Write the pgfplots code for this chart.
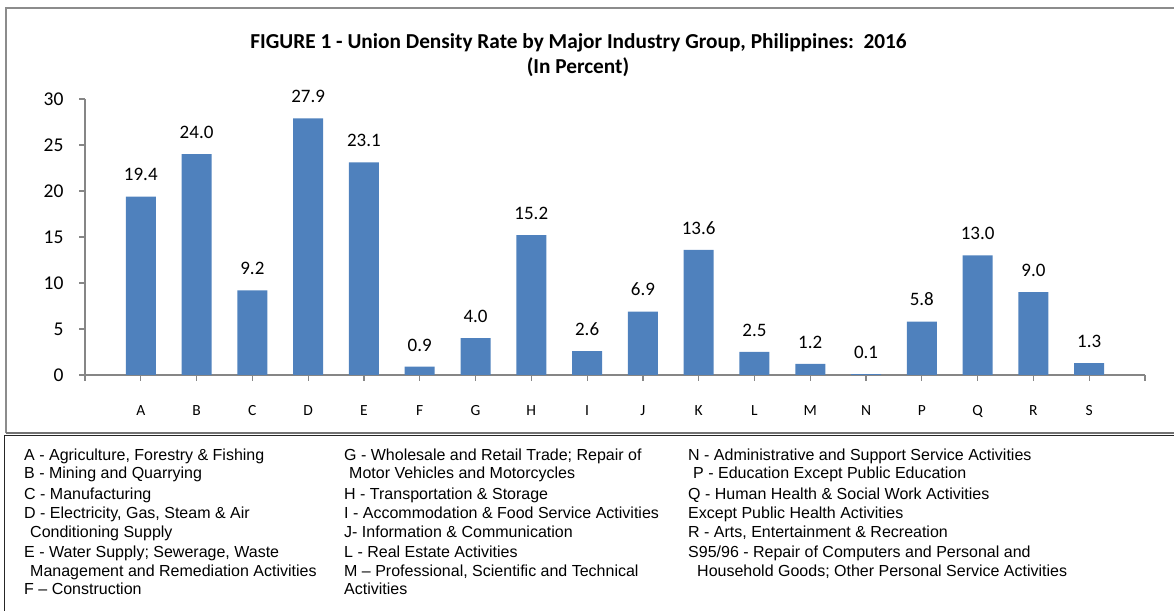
\documentclass[border=0pt]{standalone}
\usepackage{pgfplots}
\pgfplotsset{compat=1.18}
\usepackage{fontspec}
\setmainfont{Carlito}
\newfontfamily\arialfont{Liberation Sans}
\definecolor{barblue}{HTML}{4F81BD}
\definecolor{axgray}{HTML}{868686}
\begin{document}
\begin{tikzpicture}[x=1pt,y=1pt]
\useasboundingbox (0,0) rectangle (1174,610);
% chart frame
\draw[line width=2pt, color=black!45] (6,177) -- (6,601.5) -- (1180,601.5);
\draw[line width=1.2pt, color=black!55] (6,177) -- (1180,177);
\draw[line width=1.5pt, color=black!85] (4.5,-5) -- (4.5,174.5) -- (1180,174.5);
% title
\node[font=\bfseries\fontsize{21.3}{25}\selectfont] at (578.5,567) {FIGURE 1 - Union Density Rate by Major Industry Group, Philippines:\ \ 2016};
\node[font=\bfseries\fontsize{21.3}{25}\selectfont] at (578,543) {(In Percent)};
\begin{axis}[
  at={(85pt,235pt)}, anchor=south west,
  scale only axis, width=1060pt, height=276pt,
  xmin=-1, xmax=18, ymin=0, ymax=30,
  axis x line=bottom, axis y line=left,
  axis line style={-, draw=axgray, line width=1.2pt},
  tick align=outside, major tick length=6pt,
  tick style={draw=axgray, line width=1.2pt},
  xtick={-1,0,...,18},
  xticklabels={{},A,B,C,D,E,F,G,H,I,J,K,L,M,N,P,Q,R,S,{}},
  ytick={0,5,...,30},
  /pgf/number format/assume math mode=true,
  yticklabel style={font=\fontsize{19.5}{22}\selectfont, xshift=-12pt},
  xticklabel style={font=\fontsize{15.5}{18}\selectfont, yshift=-21pt},
  clip=false,
  ybar, bar width=30pt,
  nodes near coords={\pgfmathprintnumber[fixed,fixed zerofill,precision=1]{\pgfplotspointmeta}},
  every node near coord/.append style={font=\fontsize{19}{22}\selectfont, yshift=12pt, black},
]
\addplot[fill=barblue, draw=none] coordinates {
(0,19.4) (1,24.0) (2,9.2) (3,27.9) (4,23.1) (5,0.9) (6,4.0) (7,15.2) (8,2.6)
(9,6.9) (10,13.6) (11,2.5) (12,1.2) (13,0.1) (14,5.8) (15,13.0) (16,9.0) (17,1.3)};
\end{axis}
% legend text
\begin{scope}[every node/.style={anchor=base west, inner sep=0pt, font=\arialfont\fontsize{16}{18}\selectfont}]
\node at (24,149.5) {A - Agriculture, Forestry \& Fishing};
\node at (24,131.5) {B - Mining and Quarrying};
\node at (24,110.5) {C - Manufacturing};
\node at (24,91.5) {D - Electricity, Gas, Steam \& Air};
\node at (30,72.5) {Conditioning Supply};
\node at (24,52.5) {E - Water Supply; Sewerage, Waste};
\node at (30,33.5) {Management and Remediation Activities};
\node at (24,15.5) {F – Construction};
\node at (344,149.5) {G - Wholesale and Retail Trade; Repair of};
\node at (349,131.5) {Motor Vehicles and Motorcycles};
\node at (344,110.5) {H - Transportation \& Storage};
\node at (344,91.5) {I - Accommodation \& Food Service Activities};
\node at (344,72.5) {J- Information \& Communication};
\node at (344,52.5) {L - Real Estate Activities};
\node at (344,33.5) {M – Professional, Scientific and Technical};
\node at (344,15.5) {Activities};
\node at (688,149.5) {N - Administrative and Support Service Activities};
\node at (693,131.5) {P - Education Except Public Education};
\node at (688,110.5) {Q - Human Health \& Social Work Activities};
\node at (688,91.5) {Except Public Health Activities};
\node at (688,72.5) {R - Arts, Entertainment \& Recreation};
\node at (688,52.5) {S95/96 - Repair of Computers and Personal and};
\node at (697,33.5) {Household Goods; Other Personal Service Activities};
\end{scope}
\end{tikzpicture}
\end{document}
